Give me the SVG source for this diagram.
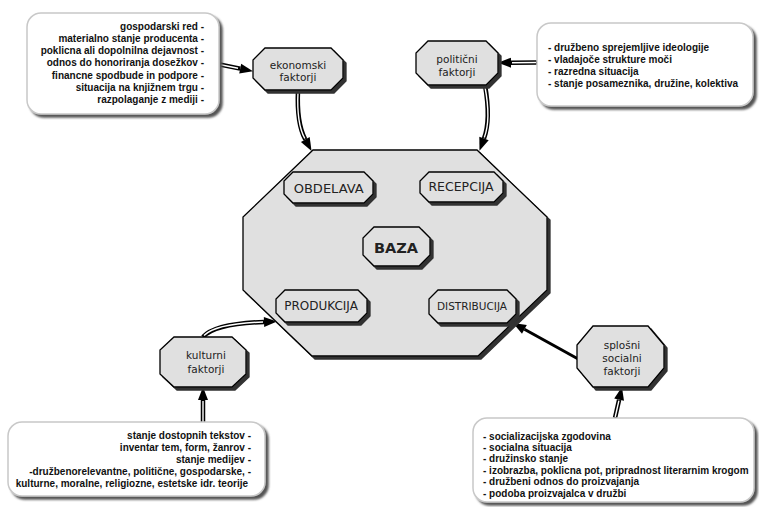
<svg xmlns="http://www.w3.org/2000/svg" width="759" height="507" viewBox="0 0 759 507">
<defs>
<style>
.oct{fill:#e0e0e0;stroke:#000;stroke-width:1.3;filter:url(#osh)}
.box{fill:#fff;stroke:#c8c8c8;stroke-width:1.5;filter:url(#bsh)}
.lbl{font-family:"DejaVu Sans",Verdana,sans-serif;fill:#222;text-anchor:middle}
.f{font-size:10.5px}
.bt{font-family:"Liberation Sans",Arial,sans-serif;font-weight:bold;font-size:10px;fill:#111}
.r{text-anchor:end}
.outer{fill:none;stroke:#000;stroke-width:4.5}
.inner{fill:none;stroke:#fff;stroke-width:1.4}
.solid{fill:none;stroke:#000;stroke-width:3}
</style>
<filter id="osh" x="-10%" y="-10%" width="125%" height="130%">
<feOffset in="SourceAlpha" dx="3" dy="3" result="o"/>
<feFlood flood-color="#333"/>
<feComposite in2="o" operator="in"/>
<feMerge><feMergeNode/><feMergeNode in="SourceGraphic"/></feMerge>
</filter>
<filter id="bsh" x="-5%" y="-5%" width="115%" height="120%">
<feGaussianBlur in="SourceAlpha" stdDeviation="0.8"/>
<feOffset dx="3" dy="3" result="o"/>
<feFlood flood-color="#555"/>
<feComposite in2="o" operator="in"/>
<feMerge><feMergeNode/><feMergeNode in="SourceGraphic"/></feMerge>
</filter>
<marker id="arr" markerUnits="userSpaceOnUse" markerWidth="13" markerHeight="10" viewBox="0 0 13 10" refX="0" refY="5" orient="auto" overflow="visible">
<path d="M0,0 L13,5 L0,10 z" fill="#000"/>
</marker>
</defs>

<g id="connectors">
<path class="outer" d="M205,61.5 L240.2,68.6" marker-end="url(#arr)"/>
<path class="inner" d="M207,62 L238,68.2"/>
<path class="outer" d="M537,62.5 L511,62.7" marker-end="url(#arr)"/>
<path class="inner" d="M536,62.5 L512,62.7"/>
<path class="outer" d="M298,90 C297,112 299,128 305.3,139.5" marker-end="url(#arr)"/>
<path class="inner" d="M298,92 C297,112 299,128 304.8,138.5"/>
<path class="outer" d="M485,85 C489,108 489,125 484,138.5" marker-end="url(#arr)"/>
<path class="inner" d="M485,87 C489,108 489,125 484.3,137.5"/>
<path class="outer" d="M203,337 C212,327 235,323 264,322" marker-end="url(#arr)"/>
<path class="inner" d="M204,335.5 C213,326.5 235,323 263,322"/>
<path class="outer" d="M203,423 L203,400" marker-end="url(#arr)"/>
<path class="inner" d="M203,423 L203,401"/>
<path class="solid" d="M580,360 L524.4,329.3" marker-end="url(#arr)"/>
<path class="outer" d="M615,418 L619.1,399.7" marker-end="url(#arr)"/>
<path class="inner" d="M615.2,417 L618.9,400.7"/>
</g>

<g id="baza-main">
<polygon class="oct" points="313,150 477,150 547,217 547,290 478,356 312,356 243,290 243,217"/>
</g>

<g id="obdelava">
<polygon class="oct" points="293,172 364,172 373,181 373,194 364,203 293,203 284,194 284,181"/>
<text class="lbl" x="328.7" y="192.5" font-size="13">OBDELAVA</text>
</g>
<g id="recepcija">
<polygon class="oct" points="429,172 494,172 503,181 503,193 494,202 429,202 420,193 420,181"/>
<text class="lbl" x="461" y="191" font-size="12.5">RECEPCIJA</text>
</g>
<g id="baza">
<polygon class="oct" points="374,227 419,227 430,238 430,255 419,266 374,266 363,255 363,238"/>
<text class="lbl" x="396" y="252.5" font-size="14.5" font-weight="bold" fill="#000">BAZA</text>
</g>
<g id="produkcija">
<polygon class="oct" points="285,290 358,290 367,299 367,313 358,322 285,322 276,313 276,299"/>
<text class="lbl" x="321" y="310" font-size="12">PRODUKCIJA</text>
</g>
<g id="distribucija">
<polygon class="oct" points="438,290 507,290 516,299 516,314 507,323 438,323 429,314 429,299"/>
<text class="lbl" x="472" y="310" font-size="10.5">DISTRIBUCIJA</text>
</g>

<g id="ekonomski">
<polygon class="oct" points="265,48 331,48 343,60 343,78 331,90 265,90 253,78 253,60"/>
<text class="lbl f" x="298" y="68.5">ekonomski</text>
<text class="lbl f" x="298" y="80.5">faktorji</text>
</g>
<g id="politicni">
<polygon class="oct" points="428,41 486,41 498,53 498,73 486,85 428,85 416,73 416,53"/>
<text class="lbl f" x="457" y="62.5">politični</text>
<text class="lbl f" x="457" y="75.5">faktorji</text>
</g>
<g id="kulturni">
<polygon class="oct" points="174,337 232,337 246,350 246,374 232,387 174,387 160,374 160,350"/>
<text class="lbl f" x="206" y="359">kulturni</text>
<text class="lbl f" x="206" y="373">faktorji</text>
</g>
<g id="splosni">
<polygon class="oct" points="593,326 648,326 664,345 664,368 648,387 593,387 577,368 577,345"/>
<text class="lbl f" x="622" y="349">splošni</text>
<text class="lbl f" x="622" y="362">socialni</text>
<text class="lbl f" x="622" y="375">faktorji</text>
</g>

<g id="box-ekonomski">
<rect class="box" x="27" y="13" width="192" height="101" rx="14"/>
<text class="bt r" x="204" y="29.5">gospodarski red -</text>
<text class="bt r" x="204" y="41.8">materialno stanje producenta -</text>
<text class="bt r" x="204" y="54.1">poklicna ali dopolnilna dejavnost -</text>
<text class="bt r" x="204" y="66.4">odnos do honoriranja dosežkov -</text>
<text class="bt r" x="204" y="78.7">financne spodbude in podpore -</text>
<text class="bt r" x="204" y="91">situacija na knjižnem trgu -</text>
<text class="bt r" x="204" y="103.3">razpolaganje z mediji -</text>
</g>

<g id="box-politicni">
<rect class="box" x="537" y="23" width="216" height="83" rx="14"/>
<text class="bt" x="548" y="51">- družbeno sprejemljive ideologije</text>
<text class="bt" x="548" y="63">- vladajoče strukture moči</text>
<text class="bt" x="548" y="75">- razredna situacija</text>
<text class="bt" x="548" y="87">- stanje posameznika, družine, kolektiva</text>
</g>

<g id="box-kulturni">
<rect class="box" x="8" y="422" width="257" height="74" rx="14"/>
<text class="bt r" x="251" y="439">stanje dostopnih tekstov -</text>
<text class="bt r" x="251" y="451">inventar tem, form, žanrov -</text>
<text class="bt r" x="251" y="463">stanje medijev -</text>
<text class="bt r" x="251" y="475">-družbenorelevantne, politične, gospodarske,  -</text>
<text class="bt r" x="248" y="487">kulturne, moralne, religiozne, estetske idr. teorije</text>
</g>

<g id="box-splosni">
<rect class="box" x="473" y="418" width="281" height="84" rx="14"/>
<text class="bt" x="483" y="439.5">- socializacijska zgodovina</text>
<text class="bt" x="483" y="450.9">- socialna situacija</text>
<text class="bt" x="483" y="462.3">- družinsko stanje</text>
<text class="bt" x="483" y="473.7">- izobrazba, poklicna pot, pripradnost literarnim  krogom</text>
<text class="bt" x="483" y="485.1">- družbeni odnos do proizvajanja</text>
<text class="bt" x="483" y="496.5">- podoba proizvajalca v družbi</text>
</g>
</svg>
